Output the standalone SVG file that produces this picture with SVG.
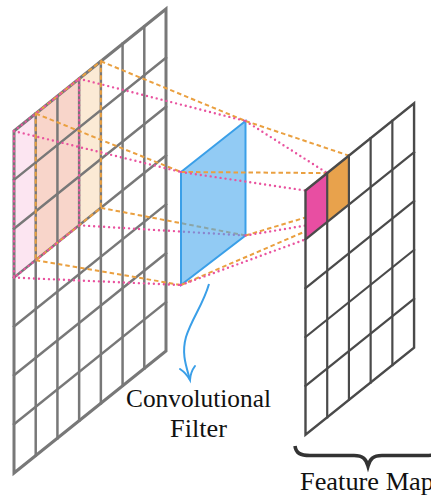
<svg xmlns="http://www.w3.org/2000/svg" width="431" height="495" viewBox="0 0 431 495">
<defs>
<style>
.grid{fill:none;stroke:#787878;stroke-width:2.5;stroke-linecap:square}
.gridout{fill:none;stroke:#787878;stroke-width:3;stroke-linejoin:miter}
.fm{fill:none;stroke:#4a4a4a;stroke-width:2.2;stroke-linecap:square}
.od{fill:none;stroke:#eaa040;stroke-width:2;stroke-dasharray:4.5 3}
.pd{fill:none;stroke:#e9539f;stroke-width:2.4;stroke-dasharray:0 5;stroke-linecap:round}
.lbl{font-family:'Liberation Serif','DejaVu Serif',serif;font-size:24.5px;fill:#111}
</style>
</defs>

<g id="input-grid">
<polygon points="14,131 79.14,78.71 79.14,225.29 14,277.57" fill="#e84ea0" fill-opacity="0.15"/>
<polygon points="35.71,113.57 100.86,61.29 100.86,207.86 35.71,260.14" fill="#eba040" fill-opacity="0.22"/>
<g class="grid">
<line x1="35.71" y1="113.57" x2="35.71" y2="455.57"/>
<line x1="57.43" y1="96.14" x2="57.43" y2="438.14"/>
<line x1="79.14" y1="78.71" x2="79.14" y2="420.71"/>
<line x1="100.86" y1="61.29" x2="100.86" y2="403.29"/>
<line x1="122.57" y1="43.86" x2="122.57" y2="385.86"/>
<line x1="144.29" y1="26.43" x2="144.29" y2="368.43"/>
<line x1="14" y1="179.86" x2="166" y2="57.86"/>
<line x1="14" y1="228.71" x2="166" y2="106.71"/>
<line x1="14" y1="277.57" x2="166" y2="155.57"/>
<line x1="14" y1="326.43" x2="166" y2="204.43"/>
<line x1="14" y1="375.29" x2="166" y2="253.29"/>
<line x1="14" y1="424.14" x2="166" y2="302.14"/>
</g>
<polygon class="gridout" points="14,131 166,9 166,351 14,473"/>
<polygon class="od" points="35.71,113.57 100.86,61.29 100.86,207.86 35.71,260.14"/>
<polygon class="pd" points="14,131 79.14,78.71 79.14,225.29 14,277.57"/>
</g>

<g id="connectors-to-filter" class="connectors">
<line class="od" x1="100.86" y1="61.29" x2="245.5" y2="121"/>
<line class="od" x1="35.71" y1="113.57" x2="181" y2="172"/>
<line class="od" x1="100.86" y1="207.86" x2="245.5" y2="235.5"/>
<line class="od" x1="35.71" y1="260.14" x2="181" y2="285"/>
<line class="pd" x1="79.14" y1="78.71" x2="245.5" y2="121"/>
<line class="pd" x1="14" y1="131" x2="181" y2="172"/>
<line class="pd" x1="79.14" y1="225.29" x2="245.5" y2="235.5"/>
<line class="pd" x1="14" y1="277.57" x2="181" y2="285"/>
</g>

<g id="filter">
<polygon points="181,172 245.5,121 245.5,235.5 181,285" fill="#4aa8ec" fill-opacity="0.6" stroke="#3a9fe8" stroke-width="2" stroke-linejoin="miter"/>
</g>

<g id="connectors-to-map" class="connectors">
<line class="od" x1="245.5" y1="121" x2="348.93" y2="155.64"/>
<line class="od" x1="181" y1="172" x2="327.21" y2="173.07"/>
<line class="od" x1="245.5" y1="235.5" x2="348.93" y2="204.5"/>
<line class="od" x1="181" y1="285" x2="327.21" y2="221.93"/>
<line class="pd" x1="245.5" y1="121" x2="327.21" y2="173.07"/>
<line class="pd" x1="181" y1="172" x2="305.5" y2="190.5"/>
<line class="pd" x1="245.5" y1="235.5" x2="327.21" y2="221.93"/>
<line class="pd" x1="181" y1="285" x2="305.5" y2="239.36"/>
<path d="M209,284 C203,305 192,318 186,337 C181,355 187,368 190,380" fill="none" stroke="#3a9fe8" stroke-width="2"/>
<path d="M180,369 Q186,373 190,380 Q190.5,372 195,366" fill="none" stroke="#3a9fe8" stroke-width="2" stroke-linecap="round"/>
</g>

<g id="feature-map">
<polygon points="305.5,190.5 414.07,103.36 414.07,347.64 305.5,434.79" fill="#ffffff"/>
<polygon points="305.5,190.5 327.21,173.07 327.21,221.93 305.5,239.36" fill="#e84ea2"/>
<polygon points="327.21,173.07 348.93,155.64 348.93,204.5 327.21,221.93" fill="#e8a24c"/>
<g class="fm">
<line x1="327.21" y1="173.07" x2="327.21" y2="417.36"/>
<line x1="348.93" y1="155.64" x2="348.93" y2="399.93"/>
<line x1="370.64" y1="138.21" x2="370.64" y2="382.5"/>
<line x1="392.36" y1="120.79" x2="392.36" y2="365.07"/>
<line x1="305.5" y1="239.36" x2="414.07" y2="152.21"/>
<line x1="305.5" y1="288.21" x2="414.07" y2="201.07"/>
<line x1="305.5" y1="337.07" x2="414.07" y2="249.93"/>
<line x1="305.5" y1="385.93" x2="414.07" y2="298.79"/>
</g>
<polygon points="305.5,190.5 414.07,103.36 414.07,347.64 305.5,434.79" fill="none" stroke="#4a4a4a" stroke-width="2.4"/>
</g>

<g id="brace">
<path d="M295,446 C296,453 300,455.5 310,455.5 L354,455.5 C363,455.5 366,459 368,466 C370,459 373,455.5 382,455.5 L426,455.5 C436,455.5 440,453 441,446" fill="none" stroke="#333" stroke-width="3.6"/>
</g>

<g id="labels">
<text class="lbl" x="198.5" y="407" text-anchor="middle" textLength="145" lengthAdjust="spacingAndGlyphs">Convolutional</text>
<text class="lbl" x="198.5" y="437" text-anchor="middle" textLength="57" lengthAdjust="spacingAndGlyphs">Filter</text>
<text class="lbl" x="300" y="490" textLength="134" lengthAdjust="spacingAndGlyphs">Feature Map</text>
</g>
</svg>
